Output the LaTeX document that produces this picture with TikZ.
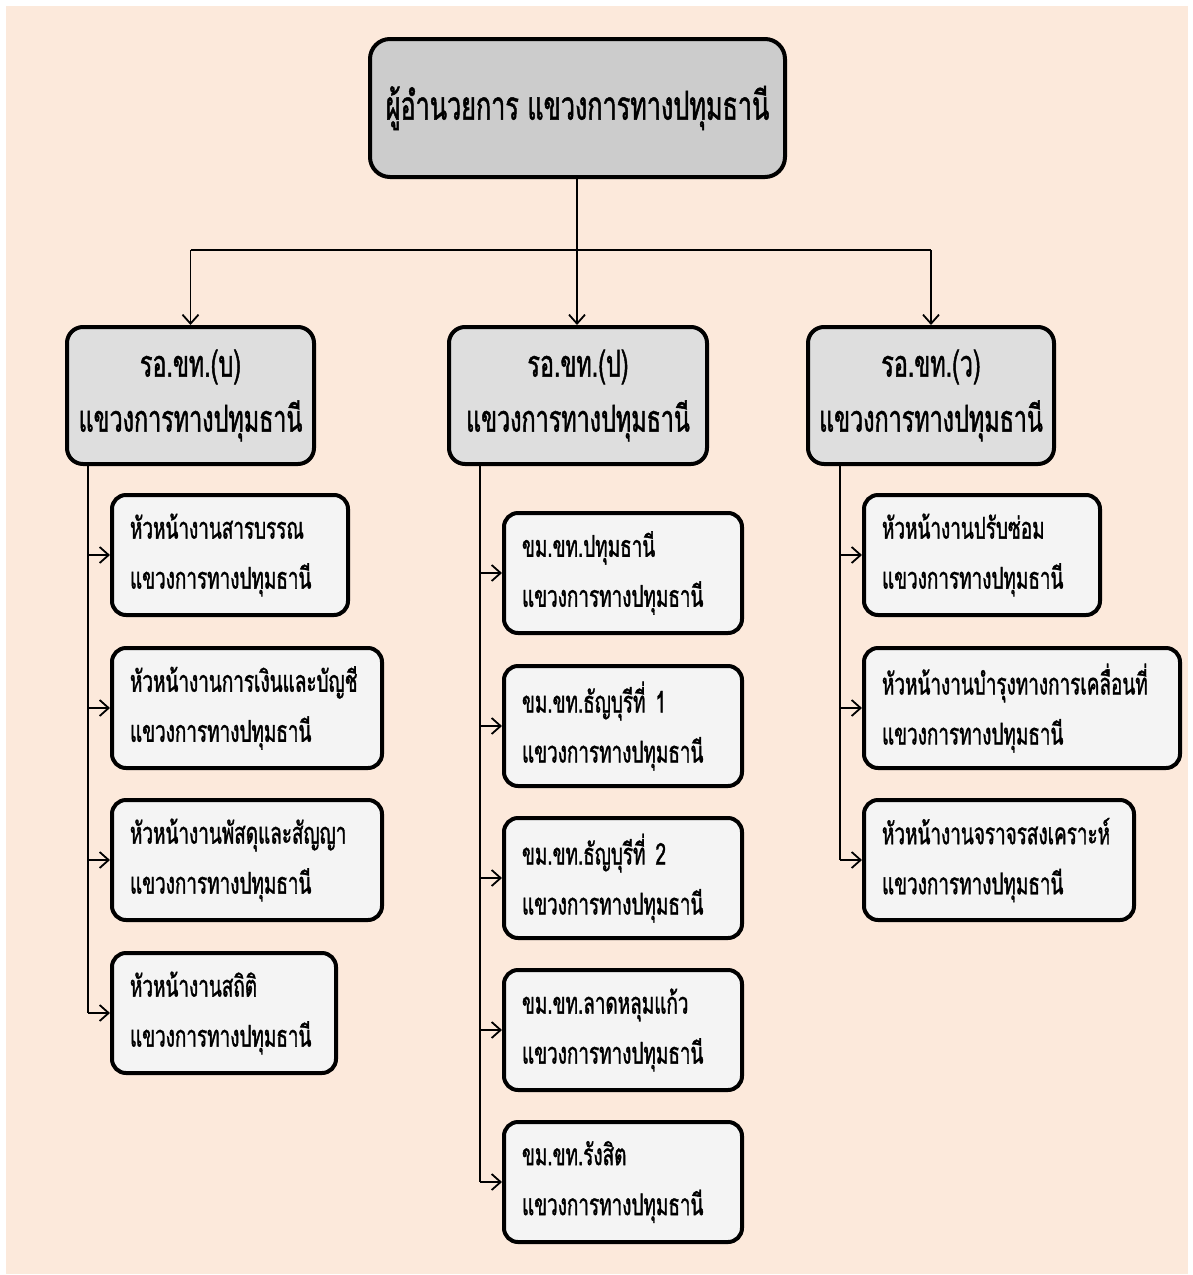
\documentclass[tikz,border=0pt]{standalone}
\usepackage{fontspec}
\usetikzlibrary{arrows.meta}
\newfontfamily\thaifont[Script=Thai,FakeStretch=0.63,FakeBold=1.2]{Loma}
\definecolor{peach}{RGB}{252,233,219}
\definecolor{topgray}{RGB}{204,204,204}
\definecolor{midgray}{RGB}{222,222,222}
\definecolor{leafgray}{RGB}{244,244,244}
\begin{document}
\begin{tikzpicture}[x=1pt,y=-1pt,
  topbox/.style={draw=black,line width=4pt,rounded corners=20pt,fill=topgray,anchor=north west,
    minimum height=138pt,inner sep=0pt,font=\thaifont\fontsize{40}{46}\selectfont},
  midbox/.style={draw=black,line width=4pt,rounded corners=16pt,fill=midgray,anchor=north west,
    minimum height=137pt,inner sep=0pt,align=center,font=\thaifont\fontsize{37}{55}\selectfont},
  leafbox/.style={draw=black,line width=4pt,rounded corners=14pt,fill=leafgray,anchor=north west,
    minimum height=120pt,inner sep=0pt,align=left,font=\thaifont\fontsize{30}{50}\selectfont},
  conn/.style={line width=1.8pt,draw=black},
  arr/.style={conn,-{Straight Barb[length=9pt,width=16pt]}}
]
\useasboundingbox (0,0) rectangle (1193,1275);
\fill[peach] (6,6) rectangle (1188,1274);

% top
\node[topbox,minimum width=415pt] (T) at (368,37) {ผู้อำนวยการ แขวงการทางปทุมธานี};

% level 2
\node[midbox,minimum width=247pt] (A) at (65,325) {รอ.ขท.(บ)\\แขวงการทางปทุมธานี};
\node[midbox,minimum width=258pt] (B) at (447,325) {รอ.ขท.(ป)\\แขวงการทางปทุมธานี};
\node[midbox,minimum width=246pt] (C) at (806,325) {รอ.ขท.(ว)\\แขวงการทางปทุมธานี};

% left children
\node[leafbox,minimum width=236pt,text width=200pt] (A1) at (110,493) {หัวหน้างานสารบรรณ\\แขวงการทางปทุมธานี};
\node[leafbox,minimum width=270pt,text width=234pt] (A2) at (110,646) {หัวหน้างานการเงินและบัญชี\\แขวงการทางปทุมธานี};
\node[leafbox,minimum width=270pt,text width=234pt] (A3) at (110,798) {หัวหน้างานพัสดุและสัญญา\\แขวงการทางปทุมธานี};
\node[leafbox,minimum width=224pt,text width=188pt] (A4) at (110,951) {หัวหน้างานสถิติ\\แขวงการทางปทุมธานี};

% middle children
\node[leafbox,minimum width=238pt,text width=202pt] (B1) at (502,511) {ขม.ขท.ปทุมธานี\\แขวงการทางปทุมธานี};
\node[leafbox,minimum width=238pt,text width=202pt] (B2) at (502,664) {ขม.ขท.ธัญบุรีที่ 1\\แขวงการทางปทุมธานี};
\node[leafbox,minimum width=238pt,text width=202pt] (B3) at (502,816) {ขม.ขท.ธัญบุรีที่ 2\\แขวงการทางปทุมธานี};
\node[leafbox,minimum width=238pt,text width=202pt] (B4) at (502,968) {ขม.ขท.ลาดหลุมแก้ว\\แขวงการทางปทุมธานี};
\node[leafbox,minimum width=238pt,text width=202pt] (B5) at (502,1120) {ขม.ขท.รังสิต\\แขวงการทางปทุมธานี};

% right children
\node[leafbox,minimum width=236pt,text width=200pt] (C1) at (862,493) {หัวหน้างานปรับซ่อม\\แขวงการทางปทุมธานี};
\node[leafbox,minimum width=316pt,text width=280pt] (C2) at (862,646) {หัวหน้างานบำรุงทางการเคลื่อนที่\\แขวงการทางปทุมธานี};
\node[leafbox,minimum width=270pt,text width=234pt] (C3) at (862,798) {หัวหน้างานจราจรสงเคราะห์\\แขวงการทางปทุมธานี};

% top connectors
\coordinate (J) at (577,250);
\draw[conn] (T.south -| J) -- (J);
\draw[conn] (A.north |- J) -- (C.north |- J);
\draw[arr] (A.north |- J) -- (A.north);
\draw[arr] (J) -- (B.north -| J);
\draw[arr] (C.north |- J) -- (C.north);

% trunks
\coordinate (LT) at (88,462);
\coordinate (MT) at (480,462);
\coordinate (RT) at (840,462);
\draw[conn] (LT) -- (LT |- A4.west);
\draw[conn] (MT) -- (MT |- B5.west);
\draw[conn] (RT) -- (RT |- C3.west);
\foreach \n in {A1,A2,A3,A4} \draw[arr] (LT |- \n.west) -- (\n.west);
\foreach \n in {B1,B2,B3,B4,B5} \draw[arr] (MT |- \n.west) -- (\n.west);
\foreach \n in {C1,C2,C3} \draw[arr] (RT |- \n.west) -- (\n.west);
\end{tikzpicture}
\end{document}
